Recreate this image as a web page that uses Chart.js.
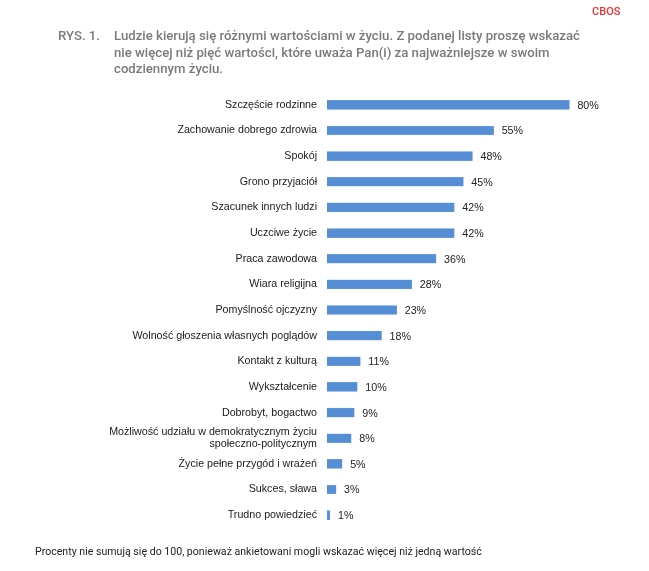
<!DOCTYPE html>
<html>
<head>
<meta charset="utf-8">
<script src="https://cdn.jsdelivr.net/npm/chart.js@4"></script>
<style>
  body { margin: 0; background: #fff; }
  #wrap { position: relative; width: 649px; height: 571px; }
  #grafico { position: absolute; left: 0; top: 0; }
  .cbos { position: absolute; left: 592px; top: 5px; font: 500 11px Roboto, sans-serif; color: #f03030; }
  .rys { position: absolute; left: 58px; top: 28px; font: 500 13.2px Roboto, sans-serif; color: #7a7a7a; }
  .tytul { position: absolute; left: 114px; top: 28px; width: 520px; font: 500 13.2px Roboto, sans-serif; color: #7a7a7a; line-height: 16.7px; }
  .przypis { position: absolute; left: 35px; top: 545px; font: 10.6px Roboto, sans-serif; color: #222; }
</style>
</head>
<body>
<div id="wrap">
  <canvas id="grafico" width="649" height="571"></canvas>
  <div class="cbos">CBOS</div>
  <div class="rys">RYS. 1.</div>
  <div class="tytul">Ludzie kierują się różnymi wartościami w życiu. Z podanej listy proszę wskazać<br>nie więcej niż pięć wartości, które uważa Pan(i) za najważniejsze w swoim<br>codziennym życiu.</div>
  <div class="przypis">Procenty nie sumują się do 100, ponieważ ankietowani mogli wskazać więcej niż jedną wartość</div>
</div>
<script>
// kategorie (wartości w życiu)
var kategorie = [
  'Szczęście rodzinne',
  'Zachowanie dobrego zdrowia',
  'Spokój',
  'Grono przyjaciół',
  'Szacunek innych ludzi',
  'Uczciwe życie',
  'Praca zawodowa',
  'Wiara religijna',
  'Pomyślność ojczyzny',
  'Wolność głoszenia własnych poglądów',
  'Kontakt z kulturą',
  'Wykształcenie',
  'Dobrobyt, bogactwo',
  ['Możliwość udziału w demokratycznym życiu', 'społeczno-politycznym'],
  'Życie pełne przygód i wrażeń',
  'Sukces, sława',
  'Trudno powiedzieć'
];

// odsetki wskazań
var procenty = [80, 55, 48, 45, 42, 42, 36, 28, 23, 18, 11, 10, 9, 8, 5, 3, 1];

// etykiety z wartością przy końcu słupka
var etykietyWartosci = {
  id: 'etykietyWartosci',
  afterDatasetsDraw: function (chart) {
    var ctx = chart.ctx;
    var meta = chart.getDatasetMeta(0);
    ctx.save();
    ctx.font = '10.7px "Liberation Sans", Arial, sans-serif';
    ctx.fillStyle = '#222';
    ctx.textBaseline = 'middle';
    ctx.textAlign = 'left';
    meta.data.forEach(function (bar, i) {
      ctx.fillText(procenty[i] + '%', bar.x + 8, bar.y + 1);
    });
    ctx.restore();
  }
};

var ctx = document.querySelector('#grafico').getContext('2d');
var wykres = new Chart(ctx, {
  type: 'bar',
  data: {
    labels: kategorie,
    datasets: [{
      data: procenty,
      backgroundColor: '#558ed5',
      borderColor: '#7aa6df',
      borderWidth: 0.5,
      barThickness: 9
    }]
  },
  options: {
    indexAxis: 'y',
    responsive: false,
    animation: false,
    layout: { padding: { top: 92, bottom: 43, left: 0, right: 19 } },
    plugins: {
      legend: { display: false },
      tooltip: { enabled: false }
    },
    scales: {
      x: {
        display: false,
        min: 0,
        max: 100
      },
      y: {
        grid: { display: false, drawTicks: false },
        border: { display: false },
        ticks: {
          autoSkip: false,
          padding: 10,
          color: '#1a1a1a',
          font: { family: '"Liberation Sans", Arial, sans-serif', size: 10.7, lineHeight: 1.15 }
        },
        afterFit: function (scale) { scale.width = 327; }
      }
    }
  },
  plugins: [etykietyWartosci]
});
</script>
</body>
</html>
